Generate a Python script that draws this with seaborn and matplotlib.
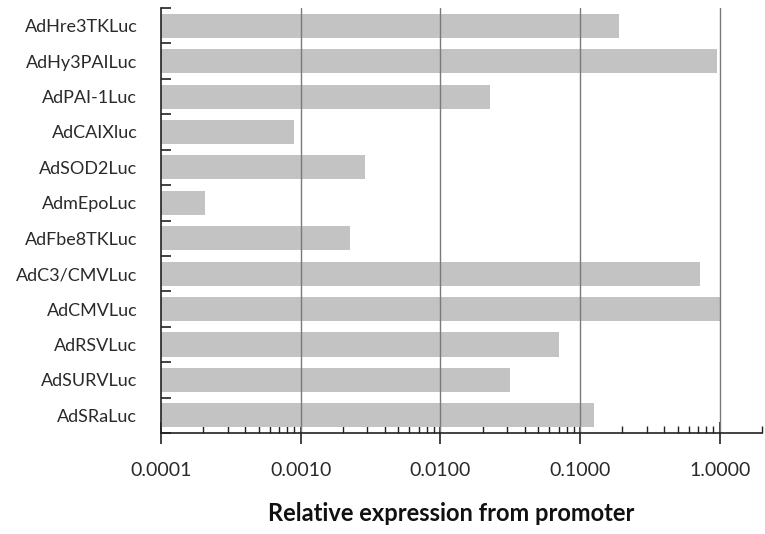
import matplotlib
matplotlib.use("Agg")
import matplotlib.pyplot as plt
import matplotlib.ticker as mticker
import seaborn as sns
import pandas as pd
import numpy as np

promoters = ["AdHre3TKLuc", "AdHy3PAILuc", "AdPAI-1Luc", "AdCAIXluc", "AdSOD2Luc",
             "AdmEpoLuc", "AdFbe8TKLuc", "AdC3/CMVLuc", "AdCMVLuc", "AdRSVLuc",
             "AdSURVLuc", "AdSRaLuc"]
expression = [0.189, 0.953, 0.0226, 0.00090, 0.00288, 0.000208, 0.00226, 0.721,
              1.0, 0.0702, 0.0316, 0.126]
xtick_values = [0.0001, 0.001, 0.01, 0.1, 1.0]
xtick_labels = ["0.0001", "0.0010", "0.0100", "0.1000", "1.0000"]

df = pd.DataFrame({"promoter": promoters, "expression": expression})

sns.set_style("white")
plt.rcParams["font.family"] = ["Lato", "DejaVu Sans"]

fig = plt.figure(figsize=(7.65, 5.34), dpi=100)
ax = fig.add_axes([0.2105, 0.189, 0.996 - 0.2105, 0.985 - 0.189])
ax.set_xscale("log")

sns.barplot(data=df, x="expression", y="promoter", orient="h", color="#c3c3c3",
            saturation=1, width=0.68, linewidth=0, ax=ax)

ax.set_xscale("log")
ax.set_xlim(1e-4, 2.0)
ax.set_ylim(len(promoters) - 0.5, -0.5)

# grid lines at major decades
for v in xtick_values[1:]:
    ax.axvline(v, color="#7a7a7a", lw=1.0, zorder=3)

ax.set_xticks(xtick_values)
ax.set_xticklabels(xtick_labels)
ax.xaxis.set_minor_locator(mticker.LogLocator(base=10, subs=np.arange(2, 10), numticks=20))
ax.xaxis.set_minor_formatter(mticker.NullFormatter())
ax.tick_params(axis="both", which="both", bottom=True, left=True)
ax.tick_params(axis="x", which="major", direction="inout", length=16, width=1.2,
               color="#222222", labelsize=14, pad=13, labelcolor="#2a2a2a")
ax.tick_params(axis="x", which="minor", direction="in", length=5, width=1.0,
               color="#222222")

# y: boundary ticks as major (no labels), category labels as minor (no marks)
ax.set_yticks(np.arange(-0.5, len(promoters), 1.0))
ax.set_yticklabels([""] * (len(promoters) + 1))
ax.set_yticks(np.arange(len(promoters)), labels=promoters, minor=True)
ax.tick_params(axis="y", which="major", direction="in", length=7, width=1.2,
               color="#222222")
ax.tick_params(axis="y", which="minor", length=0, labelsize=13, pad=17,
               labelcolor="#2a2a2a")

for s in ["top", "right"]:
    ax.spines[s].set_visible(False)
for s in ["left", "bottom"]:
    ax.spines[s].set_color("#222222")
    ax.spines[s].set_linewidth(1.2)
    ax.spines[s].set_zorder(4)

ax.set_ylabel("")
ax.set_xlabel("Relative expression from promoter", fontsize=17, fontweight="bold",
              color="#111111")
ax.xaxis.set_label_coords(0.4825, -0.162)

fig.savefig("out.png", dpi=100)
